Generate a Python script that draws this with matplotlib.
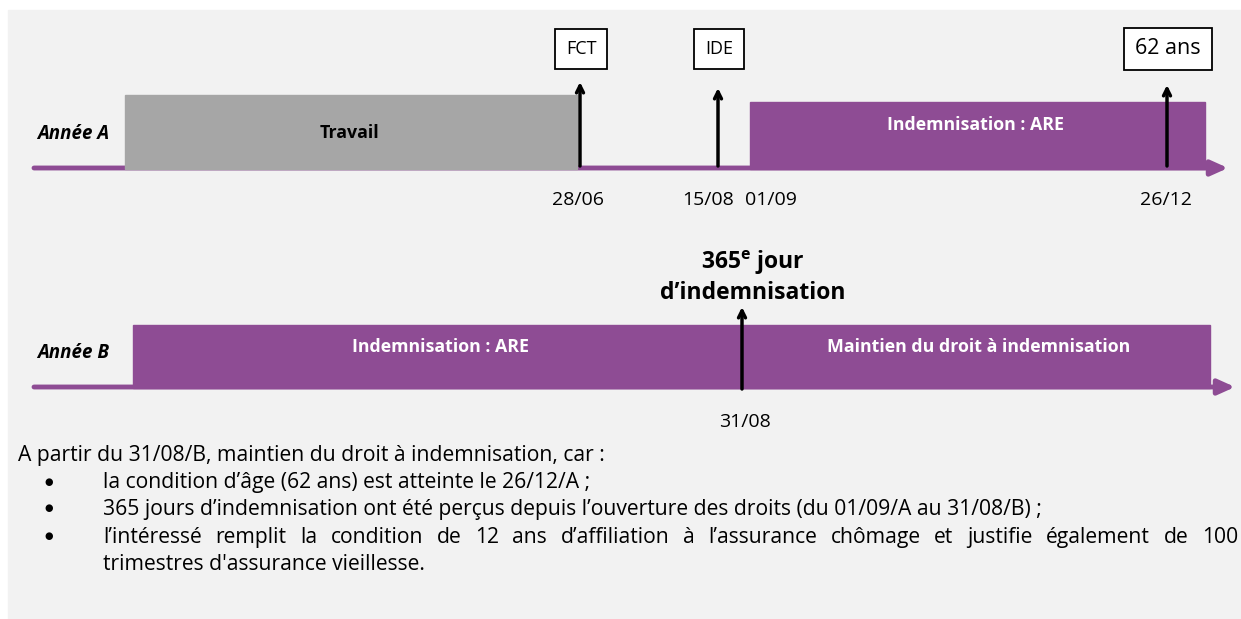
import matplotlib.pyplot as plt
from matplotlib.patches import Rectangle

plt.rcParams['font.family'] = ['Open Sans', 'DejaVu Sans']
plt.rcParams['mathtext.fontset'] = 'custom'
plt.rcParams['mathtext.bf'] = 'Open Sans:bold'
plt.rcParams['mathtext.rm'] = 'Open Sans'

PURPLE = '#8e4c94'
GREY = '#a6a6a6'
BG = '#f2f2f2'

# schematic positions along each timeline (horizontal units)
years = ['Année A', 'Année B']
year_axis_y = [168, 387]
axis_start = [40, 40]
axis_end = [1228, 1235]

periods_a = ['Travail', 'Indemnisation : ARE']
periods_a_start = [125, 750]
periods_a_end = [577, 1205]
periods_a_top = [95, 102]
periods_a_label_y = [133, 125]
periods_a_color = [GREY, PURPLE]
periods_a_text = ['black', 'white']

periods_b = ['Indemnisation : ARE', 'Maintien du droit à indemnisation']
periods_b_start = [133, 742]
periods_b_end = [742, 1210]
periods_b_top = [325, 325]

events_a = ['FCT', 'IDE', '62 ans']
events_a_x = [580, 718, 1167]
events_a_tip = [82, 88, 85]
events_a_size = [13, 13, 15.5]

dates_a = ['28/06', '15/08', '01/09', '26/12']
dates_a_x = [578, 708, 771, 1166]

event_b = "365$^{\\mathbf{e}}$ jour\nd\u2019indemnisation"
event_b_x = 742
date_b = '31/08'

intro = 'A partir du 31/08/B, maintien du droit à indemnisation, car :'
bullets = [
    'la condition d\u2019âge (62 ans) est atteinte le 26/12/A ;',
    '365 jours d\u2019indemnisation ont été perçus depuis l\u2019ouverture des droits (du 01/09/A au 31/08/B) ;',
    'l\u2019intéressé remplit la condition de 12 ans d\u2019affiliation à l\u2019assurance chômage et justifie également de 100',
]
last_line = 'trimestres d\'assurance vieillesse.'

BODY = 15.2

fig = plt.figure(figsize=(12.41, 6.19), dpi=100)
fig.patch.set_facecolor('white')
ax = fig.add_axes([0, 0, 1, 1])
ax.set_xlim(0, 1241)
ax.set_ylim(619, 0)
ax.axis('off')

ax.add_patch(Rectangle((8, 10), 1240, 620, color=BG, zorder=0))

# timelines
for name, y, x0, x1 in zip(years, year_axis_y, axis_start, axis_end):
    ax.annotate('', xy=(x1, y), xytext=(x0 - 6, y),
                arrowprops=dict(arrowstyle='-|>,head_length=1.0,head_width=0.45',
                                color=PURPLE, lw=3.5, shrinkA=0, shrinkB=0), zorder=2)
    ax.text(37, y - 34, name, fontsize=13.5, fontweight='bold', style='italic',
            ha='left', va='center', zorder=4)

# year A periods
for lab, x0, x1, top, ly, c, tc in zip(periods_a, periods_a_start, periods_a_end,
                                        periods_a_top, periods_a_label_y,
                                        periods_a_color, periods_a_text):
    ax.add_patch(Rectangle((x0, top), x1 - x0, year_axis_y[0] - top + 1, color=c, zorder=3))
    ax.text((x0 + x1) / 2 - 2, ly, lab, fontsize=12.8, fontweight='bold', color=tc,
            ha='center', va='center', zorder=4)

# year B periods
for lab, x0, x1, top in zip(periods_b, periods_b_start, periods_b_end, periods_b_top):
    ax.add_patch(Rectangle((x0, top), x1 - x0, year_axis_y[1] - top + 1, color=PURPLE, zorder=3))
    ax.text((x0 + x1) / 2 + 3, top + 22, lab, fontsize=12.8, fontweight='bold',
            color='white', ha='center', va='center', zorder=4)

# events year A
for lab, x, tip, fs in zip(events_a, events_a_x, events_a_tip, events_a_size):
    ax.annotate('', xy=(x, tip), xytext=(x, year_axis_y[0] - 2),
                arrowprops=dict(arrowstyle='->,head_length=0.5,head_width=0.25',
                                color='black', lw=2.5, shrinkA=0, shrinkB=0), zorder=5)
    ax.text(x + 1, 49, lab, fontsize=fs, ha='center', va='center', zorder=5,
            bbox=dict(boxstyle='square,pad=0.62' if fs < 15 else 'square,pad=0.5',
                      fc='white', ec='black', lw=1.3))

for lab, x in zip(dates_a, dates_a_x):
    ax.text(x, 200, lab, fontsize=14, ha='center', va='center')

# event year B
ax.annotate('', xy=(event_b_x, 307), xytext=(event_b_x, year_axis_y[1] + 2),
            arrowprops=dict(arrowstyle='->,head_length=0.5,head_width=0.25',
                            color='black', lw=2.5, shrinkA=0, shrinkB=0), zorder=5)
ax.text(event_b_x + 11, 277, event_b, fontsize=16.5, fontweight='bold', ha='center',
        va='center', linespacing=1.25, zorder=5)
ax.text(event_b_x + 3, 422, date_b, fontsize=14, ha='center', va='center')

# explanation (baseline aligned)
BL = 6
ax.text(18, 455 + BL, intro, fontsize=BODY, ha='left', va='baseline')
rows_y = [482, 509, 537]
for txt, y in zip(bullets, rows_y):
    ax.text(49, y, '\u25cf', fontsize=7, ha='center', va='center')
    if txt is bullets[-1]:
        words = txt.split(' ')
        fig.canvas.draw()
        r = fig.canvas.get_renderer()
        arts = [ax.text(0, y + BL, w, fontsize=BODY, ha='left', va='baseline') for w in words]
        widths = [a.get_window_extent(r).width for a in arts]
        gap = (1238 - 103 - sum(widths)) / (len(words) - 1)
        x = 103
        for a, w in zip(arts, widths):
            a.set_x(x)
            x += w + gap
    else:
        ax.text(103, y + BL, txt, fontsize=BODY, ha='left', va='baseline')
ax.text(103, 564 + BL, last_line, fontsize=BODY, ha='left', va='baseline')

fig.savefig('out.png', dpi=100, facecolor=fig.get_facecolor())
